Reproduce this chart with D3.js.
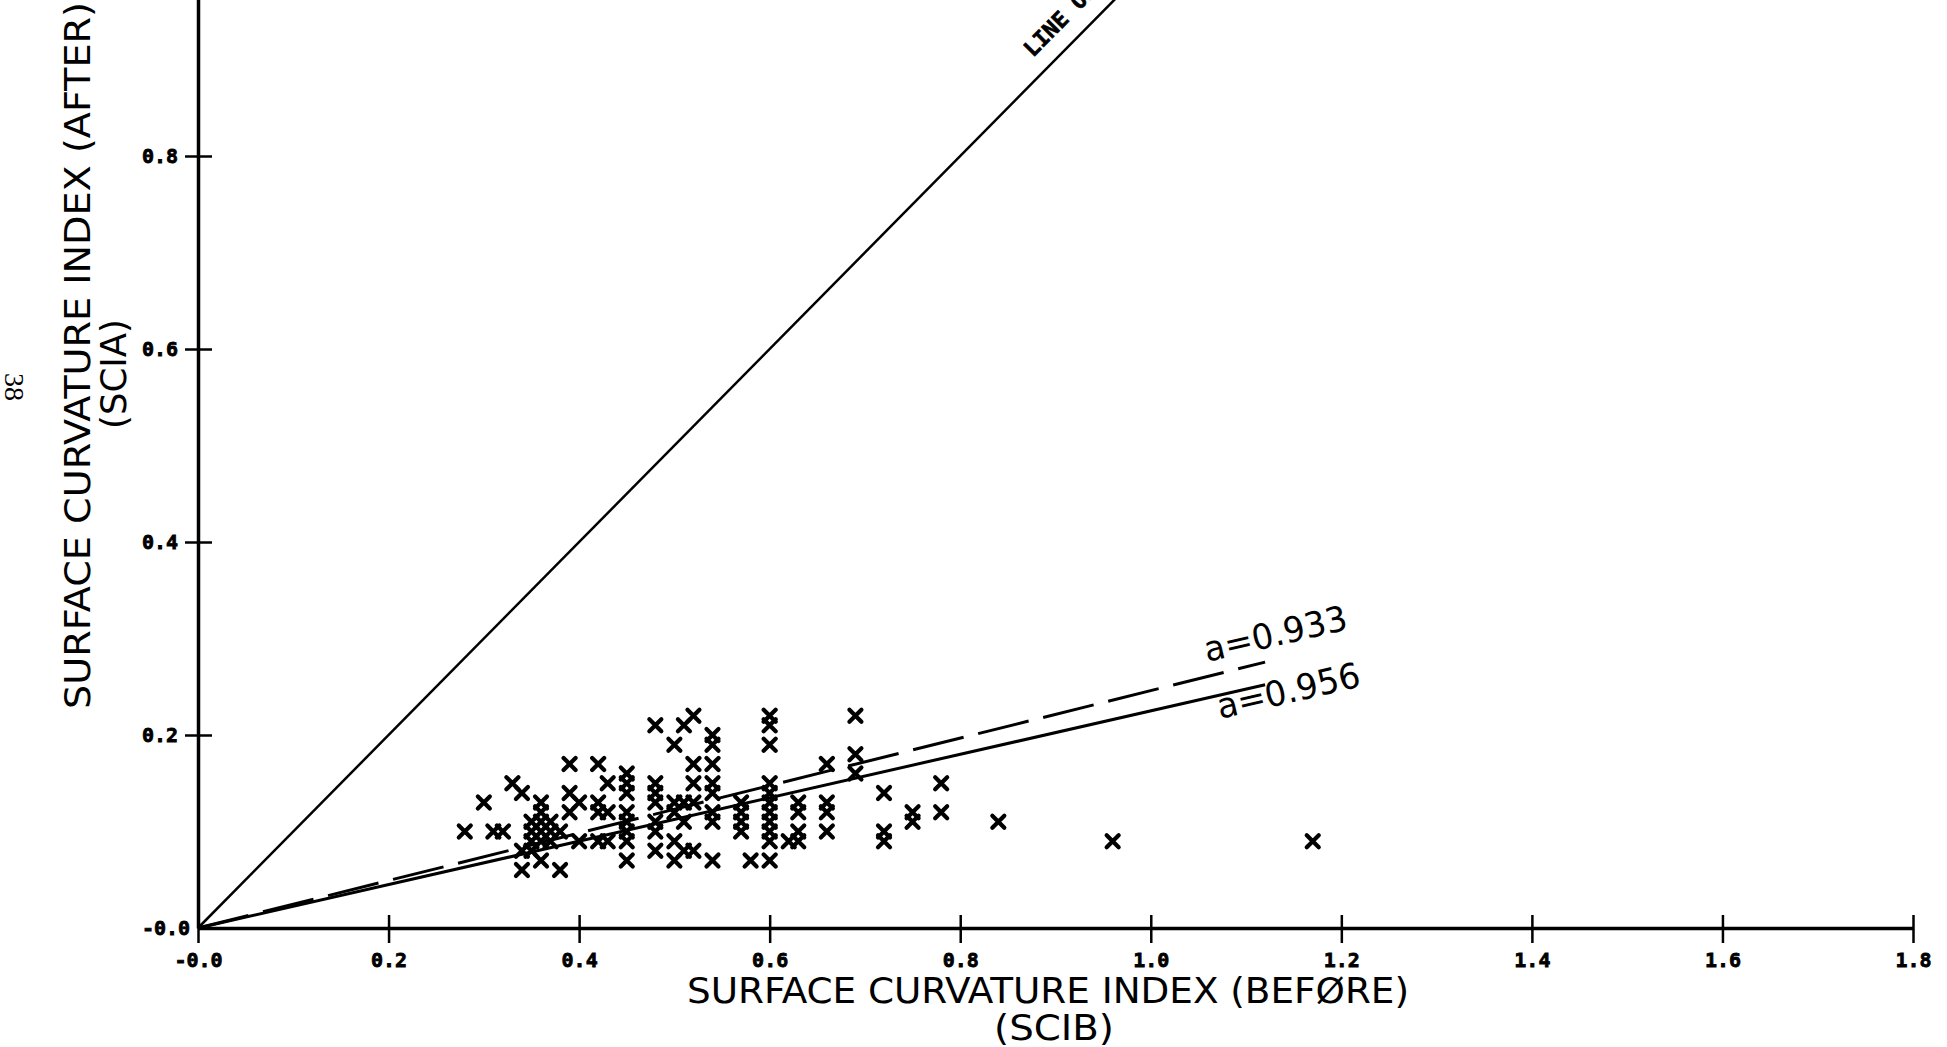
<!DOCTYPE html>
<html lang="en">
<head>
<meta charset="UTF-8">
<title>SCIA vs SCIB</title>
<script src="https://d3js.org/d3.v7.min.js"></script>
<style>
    body { margin: 0; background: #fff; }
    svg { display: block; background: #fff; }
</style>
</head>
<body>
<script>
    // surface curvature index before (x) and after (y) overlay
    var scib = [0.28, 0.30, 0.31, 0.32, 0.33, 0.34, 0.34, 0.34, 0.35, 0.35, 0.35, 0.35,
        0.36, 0.36, 0.36, 0.36, 0.36, 0.36, 0.37, 0.37, 0.37, 0.38, 0.38, 0.39, 0.39, 0.39,
        0.40, 0.40, 0.42, 0.42, 0.42, 0.42, 0.43, 0.43, 0.43,
        0.45, 0.45, 0.45, 0.45, 0.45, 0.45, 0.45, 0.45,
        0.48, 0.48, 0.48, 0.48, 0.48, 0.48, 0.48,
        0.50, 0.50, 0.50, 0.50, 0.50, 0.51, 0.51, 0.51, 0.51,
        0.52, 0.52, 0.52, 0.52, 0.52,
        0.54, 0.54, 0.54, 0.54, 0.54, 0.54, 0.54, 0.54,
        0.57, 0.57, 0.57, 0.57, 0.58,
        0.60, 0.60, 0.60, 0.60, 0.60, 0.60, 0.60, 0.60, 0.60, 0.60, 0.60,
        0.62, 0.63, 0.63, 0.63, 0.63, 0.66, 0.66, 0.66, 0.66,
        0.69, 0.69, 0.69, 0.72, 0.72, 0.72, 0.75, 0.75, 0.78, 0.78, 0.84, 0.96, 1.17];
    var scia = [0.10, 0.13, 0.10, 0.10, 0.15, 0.14, 0.08, 0.06, 0.11, 0.10, 0.09, 0.08,
        0.13, 0.12, 0.11, 0.10, 0.09, 0.07, 0.11, 0.10, 0.09, 0.10, 0.06, 0.17, 0.14, 0.12,
        0.13, 0.09, 0.17, 0.13, 0.12, 0.09, 0.15, 0.12, 0.09,
        0.16, 0.15, 0.14, 0.12, 0.11, 0.10, 0.09, 0.07,
        0.21, 0.15, 0.14, 0.13, 0.11, 0.10, 0.08,
        0.19, 0.13, 0.12, 0.09, 0.07, 0.21, 0.13, 0.11, 0.08,
        0.22, 0.17, 0.15, 0.13, 0.08,
        0.20, 0.19, 0.17, 0.15, 0.14, 0.12, 0.11, 0.07,
        0.13, 0.12, 0.11, 0.10, 0.07,
        0.22, 0.21, 0.19, 0.15, 0.14, 0.13, 0.12, 0.11, 0.10, 0.09, 0.07,
        0.09, 0.13, 0.12, 0.10, 0.09, 0.17, 0.13, 0.12, 0.10,
        0.22, 0.18, 0.16, 0.14, 0.10, 0.09, 0.12, 0.11, 0.15, 0.12, 0.11, 0.09, 0.09];

    // fitted lines through the origin
    var fitLabels = ["a=0.933", "a=0.956"];
    var fitSlopes = [0.246, 0.225];
    var fitEnd = 1.12;

    var xTicks = [0, 0.2, 0.4, 0.6, 0.8, 1.0, 1.2, 1.4, 1.6, 1.8];
    var yTicks = [0, 0.2, 0.4, 0.6, 0.8, 1.0];

    var width = 1947, height = 1047;

    var svg = d3.select("body").append("svg")
        .attr("width", width)
        .attr("height", height);

    var xScale = d3.scaleLinear().domain([0, 1.8]).range([198, 1913]);
    var yScale = d3.scaleLinear().domain([0, 1.0]).range([928, -37]);

    var fmt = function(d) { return d === 0 ? "-0.0" : d.toFixed(1); };
    var tickFont = "'DejaVu Sans Mono', monospace";
    var titleFont = "'DejaVu Sans Condensed', 'Liberation Sans Narrow', 'DejaVu Sans', sans-serif";

    // x-axis
    var xAxis = svg.append("g")
        .attr("transform", "translate(0," + yScale(0) + ")")
        .call(d3.axisBottom(xScale).tickValues(xTicks).tickFormat(fmt).tickSizeOuter(0));
    xAxis.select(".domain").attr("stroke", "#000").attr("stroke-width", 3.5);
    xAxis.selectAll(".tick line")
        .attr("stroke", "#000").attr("stroke-width", 2.5)
        .attr("y1", -13).attr("y2", 15);
    xAxis.selectAll(".tick text")
        .attr("y", 25)
        .attr("dy", "0.71em")
        .attr("fill", "#000")
        .attr("stroke", "#000")
        .attr("stroke-width", 0.8)
        .style("font-family", tickFont)
        .style("font-weight", "bold")
        .style("font-size", "20px");

    // y-axis
    var yAxis = svg.append("g")
        .attr("transform", "translate(" + xScale(0) + ",0)")
        .call(d3.axisLeft(yScale).tickValues(yTicks).tickFormat(fmt).tickSizeOuter(0));
    yAxis.select(".domain").attr("stroke", "#000").attr("stroke-width", 3.5);
    yAxis.selectAll(".tick line")
        .attr("stroke", "#000").attr("stroke-width", 2.5)
        .attr("x1", function(d) { return d === 0 ? 0 : -13; })
        .attr("x2", function(d) { return d === 0 ? 0 : 14; });
    yAxis.selectAll(".tick text")
        .attr("x", -56)
        .attr("text-anchor", "start")
        .attr("fill", "#000")
        .attr("stroke", "#000")
        .attr("stroke-width", 0.8)
        .style("font-family", tickFont)
        .style("font-weight", "bold")
        .style("font-size", "20px");

    // line of equality
    svg.append("line")
        .attr("x1", xScale(0)).attr("y1", yScale(0))
        .attr("x2", xScale(1.0)).attr("y2", yScale(1.0))
        .attr("stroke", "#000").attr("stroke-width", 2.5);

    var eqAngle = Math.atan2(yScale(1) - yScale(0), xScale(1) - xScale(0)) * 180 / Math.PI;
    svg.append("text")
        .attr("transform", "translate(1033,58) rotate(" + eqAngle + ")")
        .attr("stroke", "#000")
        .attr("stroke-width", 0.6)
        .style("font-family", tickFont)
        .style("font-weight", "bold")
        .style("font-size", "22px")
        .text("LINE OF EQUALITY");

    // fitted lines
    var line = d3.line()
        .x(function(d) { return xScale(d[0]); })
        .y(function(d) { return yScale(d[1]); });

    svg.selectAll(".fit")
        .data(fitSlopes)
        .enter().append("path")
        .attr("class", "fit")
        .attr("d", function(s) { return line([[0, 0], [fitEnd, s * fitEnd]]); })
        .attr("fill", "none")
        .attr("stroke", "#000")
        .attr("stroke-width", 3)
        .attr("stroke-dasharray", function(s, i) { return i === 0 ? "52,15" : null; });

    // labels beside the fitted lines
    var labelPos = [[1207, 662], [1220, 719]];
    svg.selectAll(".fitlabel")
        .data(fitLabels)
        .enter().append("text")
        .attr("class", "fitlabel")
        .attr("transform", function(d, i) {
            return "translate(" + labelPos[i][0] + "," + labelPos[i][1] + ") rotate(-13)";
        })
        .attr("textLength", 146)
        .attr("lengthAdjust", "spacingAndGlyphs")
        .style("font-family", "'DejaVu Sans', sans-serif")
        .style("font-size", "35px")
        .text(function(d) { return d; });

    // points
    var pts = d3.zip(scib, scia);
    svg.selectAll(".pt")
        .data(pts)
        .enter().append("path")
        .attr("class", "pt")
        .attr("transform", function(d) { return "translate(" + xScale(d[0]) + "," + yScale(d[1]) + ")"; })
        .attr("d", "M-6,-6L6,6M-6,6L6,-6")
        .attr("stroke", "#000")
        .attr("stroke-width", 4.2)
        .attr("stroke-linecap", "round");

    // axis titles
    svg.append("text")
        .attr("x", 687).attr("y", 990)
        .attr("dy", "0.36em")
        .attr("textLength", 722)
        .attr("lengthAdjust", "spacingAndGlyphs")
        .style("font-family", titleFont)
        .style("font-size", "35px")
        .text("SURFACE CURVATURE INDEX  (BEFØRE)");
    svg.append("text")
        .attr("x", 1054).attr("y", 1027)
        .attr("dy", "0.36em")
        .attr("text-anchor", "middle")
        .attr("textLength", 120)
        .attr("lengthAdjust", "spacingAndGlyphs")
        .style("font-family", titleFont)
        .style("font-size", "35px")
        .text("(SCIB)");

    svg.append("text")
        .attr("transform", "translate(77,709) rotate(-90)")
        .attr("dy", "0.36em")
        .attr("textLength", 707)
        .attr("lengthAdjust", "spacingAndGlyphs")
        .style("font-family", titleFont)
        .style("font-size", "35px")
        .text("SURFACE CURVATURE INDEX  (AFTER)");
    svg.append("text")
        .attr("transform", "translate(113,374) rotate(-90)")
        .attr("dy", "0.36em")
        .attr("text-anchor", "middle")
        .attr("textLength", 110)
        .attr("lengthAdjust", "spacingAndGlyphs")
        .style("font-family", titleFont)
        .style("font-size", "35px")
        .text("(SCIA)");

    // page number in the margin
    svg.append("text")
        .attr("transform", "translate(15,387) rotate(90)")
        .attr("dy", "0.36em")
        .attr("text-anchor", "middle")
        .style("font-family", "'Liberation Serif', serif")
        .style("font-size", "28px")
        .text("38");
</script>
</body>
</html>
